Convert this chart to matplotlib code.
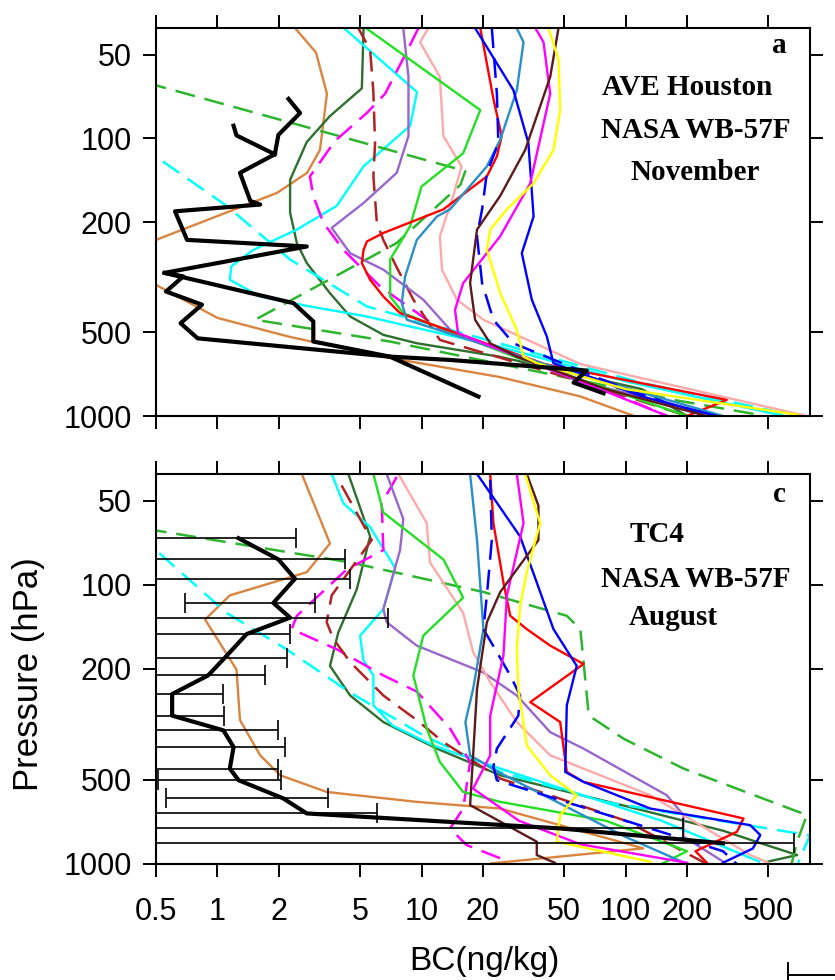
import numpy as np
import matplotlib
matplotlib.use("Agg")
import matplotlib.pyplot as plt
from matplotlib.lines import Line2D
from matplotlib.ticker import NullLocator, FixedLocator, FixedFormatter

# ---- panel a : AVE Houston, November  (BC ng/kg, pressure hPa) ----
a_orange = [(2.40, 40), (3.04, 49), (3.44, 69), (3.18, 110), (2.75, 133), (1.96, 157), (0.5, 232), (0.3, 260),
            (0.35, 300), (0.5, 337), (1.0, 443), (2.27, 519), (6.5, 612), (24, 723), (60, 850), (110, 1000)]
a_dkgreen = [(5.2, 40), (5.1, 66), (3.56, 83), (2.74, 103), (2.27, 141), (2.27, 185), (2.45, 238), (2.74, 281),
             (3.56, 361), (4.47, 438), (6.5, 510), (9.5, 547), (24, 611), (120, 800), (200, 1000)]
a_cyan = [(4.0, 39), (9.5, 68), (8.8, 90), (5.2, 126), (3.84, 175), (2.45, 213), (1.50, 252), (1.17, 289),
          (1.15, 323), (1.62, 371), (2.84, 403), (5.4, 438), (8.8, 476), (24, 562), (100, 750), (600, 1000)]
a_cyan_d = [(0.54, 121), (1.11, 175), (2.27, 273), (5.4, 403), (24, 547), (120, 760), (650, 990)]
a_green_d = [(0.45, 63), (16.4, 131), (15.5, 147), (7.56, 238), (1.53, 450), (1.95, 463), (7.0, 539),
             (40, 700), (180, 880), (450, 990)]
a_mag_d = [(9.66, 40), (8.31, 50), (6.63, 69), (5.39, 81), (3.77, 102), (2.84, 137), (2.95, 161), (3.30, 201),
           (4.14, 252), (6.26, 341), (12, 480), (40, 650), (160, 1000)]
a_brown_d = [(4.81, 39), (5.60, 48), (5.81, 68), (5.92, 104), (5.81, 137), (6.04, 201), (6.5, 232), (7.43, 284),
             (9.12, 381), (12.3, 532), (60, 750), (200, 1000)]
a_purple = [(8.14, 40), (8.63, 60), (8.63, 98), (7.56, 133), (5.19, 171), (3.63, 210), (4.47, 259), (6.5, 297),
            (10.2, 381), (14.3, 503), (60, 750), (281, 1000)]
a_pink = [(10.8, 40), (9.84, 45), (12.3, 60), (12.8, 98), (15.7, 126), (14.3, 161), (12.3, 225), (12.6, 297),
          (14.9, 381), (20.1, 450), (60, 650), (750, 995)]
a_lime = [(5.09, 39), (19.4, 79), (16.0, 113), (10.0, 149), (8.79, 207), (7.02, 273), (7.02, 371), (8.14, 426),
          (30, 620), (200, 1000)]
a_red = [(19.4, 40), (22.5, 72), (24.7, 98), (23.4, 116), (20.9, 137), (12.8, 180), (6.5, 219), (5.4, 235),
         (5.2, 252), (5.1, 281), (5.6, 323), (6.5, 371), (7.85, 426), (40, 650), (313, 875), (200, 1000)]
a_teal = [(28.8, 39), (31.6, 45), (29.3, 67), (24.3, 101), (20.9, 126), (13.8, 180), (11.9, 191), (9.48, 232),
          (8.31, 314), (8.0, 392), (8.48, 450), (40, 650), (300, 1000)]
a_blue_d = [(22.1, 40), (23.4, 69), (23.8, 104), (20.9, 133), (19.8, 180), (18.7, 225), (19.8, 332), (22.5, 450),
            (28.2, 547), (100, 800), (250, 1000)]
a_blue = [(18.3, 40), (28.2, 67), (33.4, 104), (35.4, 191), (31.0, 259), (34.7, 381), (41.1, 517), (44.3, 645),
          (120, 850), (280, 1000)]
a_magenta = [(35.4, 39), (39.6, 45), (42.7, 69), (34.1, 145), (24.3, 225), (16.0, 332), (14.6, 414), (15.1, 503),
             (60, 750), (160, 1000)]
a_dkbrown = [(46.9, 40), (42.7, 60), (32.2, 110), (24.3, 161), (18.7, 213), (17.3, 332), (18.3, 450), (21.7, 547),
             (29.3, 611), (80, 800), (250, 1000)]
a_yellow = [(41.9, 40), (46.9, 52), (47.8, 79), (44.3, 110), (35.4, 145), (26.2, 180), (21.7, 213), (20.9, 252),
            (24.3, 361), (29.3, 490), (31.6, 611), (36.7, 645), (100, 800), (700, 990)]

# observations panel a (three flight pieces)
a_obs_main = [(2.23, 72), (2.54, 81), (1.99, 97), (1.91, 114), (1.29, 133), (1.45, 168), (1.62, 173), (0.62, 183),
              (0.71, 232), (2.74, 245), (0.55, 305), (0.68, 314), (0.56, 356), (0.84, 397), (0.66, 463),
              (0.80, 525), (7.0, 611), (13.8, 628), (64.6, 686), (55.6, 758), (78, 828)]
a_obs_spur = [(1.20, 90), (1.24, 97.5), (1.91, 114)]
a_obs_low = [(0.55, 305), (2.36, 392), (2.95, 456), (2.95, 539), (7.0, 611), (19.0, 851)]

# ---- panel c : TC4, August ----
c_orange = [(2.59, 40), (3.56, 71), (2.74, 90), (1.15, 109), (0.87, 133), (1.24, 201), (1.29, 305), (1.62, 408),
            (2.03, 481), (3.43, 552), (9.48, 599), (24.3, 633), (122, 879), (22, 995)]
c_cyan = [(3.63, 40), (4.14, 51), (5.60, 62), (7.43, 87), (6.5, 122), (5.0, 152), (5.19, 186), (5.81, 211),
          (5.81, 270), (7.2, 319), (11.4, 376), (24.3, 455), (150, 700), (450, 980)]
c_cyan_d = [(0.52, 77), (1.11, 126), (2.18, 170), (4.47, 243), (10.2, 346), (24.3, 468), (80, 600), (800, 790),
            (700, 990)]
c_dkgreen = [(4.38, 40), (5.60, 67), (4.81, 104), (3.91, 148), (3.56, 195), (4.47, 249), (6.5, 310), (11.9, 386),
             (24.3, 481), (100, 620), (300, 760), (442, 835), (693, 929), (494, 982)]
c_green_d = [(0.45, 63), (4.47, 83), (20.1, 106), (51.5, 129), (60, 144), (66, 294), (98, 356), (192, 455),
             (773, 668), (692, 832), (650, 1000)]
c_mag_d = [(7.56, 41), (6.38, 51), (6.5, 75), (4.30, 88), (2.45, 129), (2.31, 144), (3.84, 170), (6.5, 211),
           (9.48, 241), (13.8, 327), (17.3, 431), (16.0, 633), (13.8, 746), (16.6, 855), (24.3, 954)]
c_brown_d = [(4.06, 44), (5.70, 69), (3.63, 109), (3.43, 136), (3.70, 156), (4.47, 189), (6.5, 249), (9.48, 305),
             (12.8, 366), (24.3, 494), (100, 700), (250, 1000)]
c_purple = [(6.75, 40), (8.14, 58), (7.85, 75), (6.5, 122), (6.75, 136), (9.48, 165), (16.7, 195), (20.1, 206),
            (29.3, 249), (42.7, 337), (62.2, 386), (159, 567), (192, 668), (192, 798), (300, 980)]
c_pink = [(7.70, 40), (10.6, 60), (11.0, 83), (16.0, 126), (17.9, 174), (21.7, 223), (29.3, 310), (42.7, 408),
          (132, 567), (192, 668), (408, 929), (500, 990)]
c_lime = [(5.81, 40), (6.5, 55), (12.8, 81), (16.0, 111), (10.2, 152), (9.12, 211), (10.6, 327), (12.3, 431),
          (16.0, 552), (24.3, 599), (80, 700), (200, 900), (150, 1000)]
c_teal = [(17.3, 40), (18.7, 69), (20.1, 144), (17.9, 236), (16.4, 310), (17.3, 408), (24, 470), (100, 800),
          (200, 1000)]
c_dkbrown = [(32.8, 40), (37.4, 52), (37.4, 69), (24.3, 106), (20.9, 136), (18.7, 236), (17.9, 408), (17.3, 615),
             (36.7, 832), (36.7, 929), (45, 990)]
c_yellow = [(32.2, 40), (38.1, 60), (32.8, 90), (30.4, 119), (29.3, 170), (29.8, 236), (32.8, 376), (42.7, 481),
            (57.6, 567), (47.8, 668), (46.0, 832), (132, 982)]
c_red = [(21.7, 40), (22.5, 60), (25.2, 98), (27.2, 129), (32.8, 144), (42.7, 165), (62.2, 192), (34.1, 263),
         (47.8, 310), (51.5, 468), (62.2, 508), (378, 687), (351, 767), (220, 900), (250, 990)]
c_blue_d = [(21.7, 42), (22.1, 69), (20.9, 109), (20.1, 144), (23.4, 174), (27.2, 211), (30.4, 249), (29.8, 294),
            (23.4, 386), (22.5, 448), (23.4, 501), (100, 700), (300, 900), (350, 1000)]
c_blue = [(18.7, 40), (30.4, 67), (36.7, 98), (44.3, 144), (57.6, 195), (51.5, 270), (50.6, 468), (62.2, 508),
          (132, 633), (408, 726), (457, 788), (420, 880), (300, 990)]
c_magenta = [(29.3, 40), (31.6, 60), (26.2, 109), (25.2, 179), (21.7, 294), (21.7, 408), (17.9, 537), (30, 700),
             (60, 850), (200, 990)]

# observations panel c, mean with error bar bounds
c_obs_p = [68, 81, 95, 116, 131, 150, 182, 211, 246, 294, 332, 381, 455, 501, 582, 659, 746, 843]
c_obs_bc = [1.27, 1.99, 2.40, 1.88, 2.27, 1.39, 1.09, 0.90, 0.60, 0.60, 1.07, 1.20, 1.15, 1.27, 2.1, 2.74, 48, 300]
c_obs_hi = [2.43, 4.22, 4.47, 3.01, 6.88, 2.27, 2.20, 1.71, 1.06, 1.08, 1.97, 2.14, 1.97, 2.05, 3.47, 6.04, 192, 665]
c_obs_lo = [0.05, 0.05, 0.05, 0.69, 0.05, 0.05, 0.05, 0.05, 0.05, 0.05, 0.05, 0.05, 0.05, 0.51, 0.56, 0.05, 0.05, 0.05]

x_ticks = [0.5, 1, 2, 5, 10, 20, 50, 100, 200, 500]
x_labels = ["0.5", "1", "2", "5", "10", "20", "50", "100", "200", "500"]
y_ticks = [50, 100, 200, 500, 1000]
y_labels = ["50", "100", "200", "500", "1000"]

# colour / linestyle for the model curves
styles = [
    ("orange", "#D98540", "-"), ("dkgreen", "#2E6E2E", "-"), ("cyan", "#00FFFF", "-"),
    ("cyan_d", "#00FFFF", "--"), ("green_d", "#2DB52D", "--"), ("mag_d", "#FF00FF", "--"),
    ("brown_d", "#B22222", "--"), ("purple", "#9966CC", "-"), ("pink", "#FFAAAA", "-"),
    ("lime", "#22E022", "-"), ("red", "#FF0000", "-"), ("teal", "#2A8FC8", "-"),
    ("blue_d", "#0000FF", "--"), ("blue", "#0000FF", "-"), ("magenta", "#FF00FF", "-"),
    ("dkbrown", "#5C1A1A", "-"), ("yellow", "#FFFF00", "-"),
]

SANS = "Liberation Sans"
SERIF = "Liberation Serif"


def draw_model(ax, pts, color, ls):
    pts = np.array(pts, dtype=float)
    if ls == "--":
        ax.plot(pts[:, 0], pts[:, 1], color=color, lw=1.8, dashes=(8, 4))
    else:
        ax.plot(pts[:, 0], pts[:, 1], color=color, lw=1.7)


def setup_axes(ax, show_xlabels):
    ax.set_xscale("log")
    ax.set_yscale("log")
    ax.set_xlim(0.5, 800)
    ax.set_ylim(1000, 40)
    ax.xaxis.set_major_locator(FixedLocator(x_ticks))
    ax.xaxis.set_major_formatter(FixedFormatter(x_labels))
    ax.yaxis.set_major_locator(FixedLocator(y_ticks))
    ax.yaxis.set_major_formatter(FixedFormatter(y_labels))
    ax.xaxis.set_minor_locator(NullLocator())
    ax.yaxis.set_minor_locator(NullLocator())
    ax.tick_params(which="major", direction="out", length=9.5, width=1.4,
                   top=True, right=True, labelsize=22, pad=8)
    ax.tick_params(axis="x", labelbottom=show_xlabels, pad=14)
    for lab in ax.get_xticklabels() + ax.get_yticklabels():
        lab.set_fontfamily(SANS)
    for sp in ax.spines.values():
        sp.set_linewidth(1.5)


fig = plt.figure(figsize=(8.35, 9.8), dpi=100)
ax_a = fig.add_axes([0.1868, 0.5755, 0.7832, 0.3959])
ax_c = fig.add_axes([0.1868, 0.1184, 0.7832, 0.3980])

series_a = dict(orange=a_orange, dkgreen=a_dkgreen, cyan=a_cyan, cyan_d=a_cyan_d, green_d=a_green_d,
                mag_d=a_mag_d, brown_d=a_brown_d, purple=a_purple, pink=a_pink, lime=a_lime, red=a_red,
                teal=a_teal, blue_d=a_blue_d, blue=a_blue, magenta=a_magenta, dkbrown=a_dkbrown, yellow=a_yellow)
series_c = dict(orange=c_orange, dkgreen=c_dkgreen, cyan=c_cyan, cyan_d=c_cyan_d, green_d=c_green_d,
                mag_d=c_mag_d, brown_d=c_brown_d, purple=c_purple, pink=c_pink, lime=c_lime, red=c_red,
                teal=c_teal, blue_d=c_blue_d, blue=c_blue, magenta=c_magenta, dkbrown=c_dkbrown, yellow=c_yellow)

for name, color, ls in styles:
    draw_model(ax_a, series_a[name], color, ls)
    draw_model(ax_c, series_c[name], color, ls)

# observed BC, panel a
for piece in (a_obs_main, a_obs_spur, a_obs_low):
    pts = np.array(piece)
    ax_a.plot(pts[:, 0], pts[:, 1], color="black", lw=3.0, zorder=5)

# observed BC with error bars, panel c
bc = np.array(c_obs_bc)
ax_c.errorbar(bc, c_obs_p, xerr=[bc - np.array(c_obs_lo), np.array(c_obs_hi) - bc], fmt="none",
              ecolor="black", elinewidth=1.2, capsize=7, capthick=1.2, zorder=4)
ax_c.plot(bc, c_obs_p, color="black", lw=3.0, zorder=5)

setup_axes(ax_a, False)
setup_axes(ax_c, True)

tkw = dict(family=SERIF, fontweight="bold", fontsize=21, ha="center", va="baseline")
ax_a.text(0.953, 0.936, "a", transform=ax_a.transAxes, **tkw)
ax_a.text(0.813, 0.827, "AVE Houston", transform=ax_a.transAxes, **tkw)
ax_a.text(0.826, 0.716, "NASA WB-57F", transform=ax_a.transAxes, **tkw)
ax_a.text(0.825, 0.608, "November", transform=ax_a.transAxes, **tkw)

ax_c.text(0.953, 0.928, "c", transform=ax_c.transAxes, **tkw)
ax_c.text(0.766, 0.826, "TC4", transform=ax_c.transAxes, **tkw)
ax_c.text(0.826, 0.710, "NASA WB-57F", transform=ax_c.transAxes, **tkw)
ax_c.text(0.791, 0.613, "August", transform=ax_c.transAxes, **tkw)

fig.text(0.034, 0.312, "Pressure (hPa)", rotation=90, ha="center", va="center", family=SANS, fontsize=25)
fig.text(0.580, 0.019, "BC(ng/kg)", ha="center", va="center", family=SANS, fontsize=24)

# small corner piece of a neighbouring panel at the bottom right
fig.add_artist(Line2D([0.9437, 0.9437], [0.0, 0.0173], transform=fig.transFigure, color="black", lw=1.4))
fig.add_artist(Line2D([0.9437, 1.0], [0.0051, 0.0051], transform=fig.transFigure, color="black", lw=1.4))

fig.savefig("out.png", dpi=100)
